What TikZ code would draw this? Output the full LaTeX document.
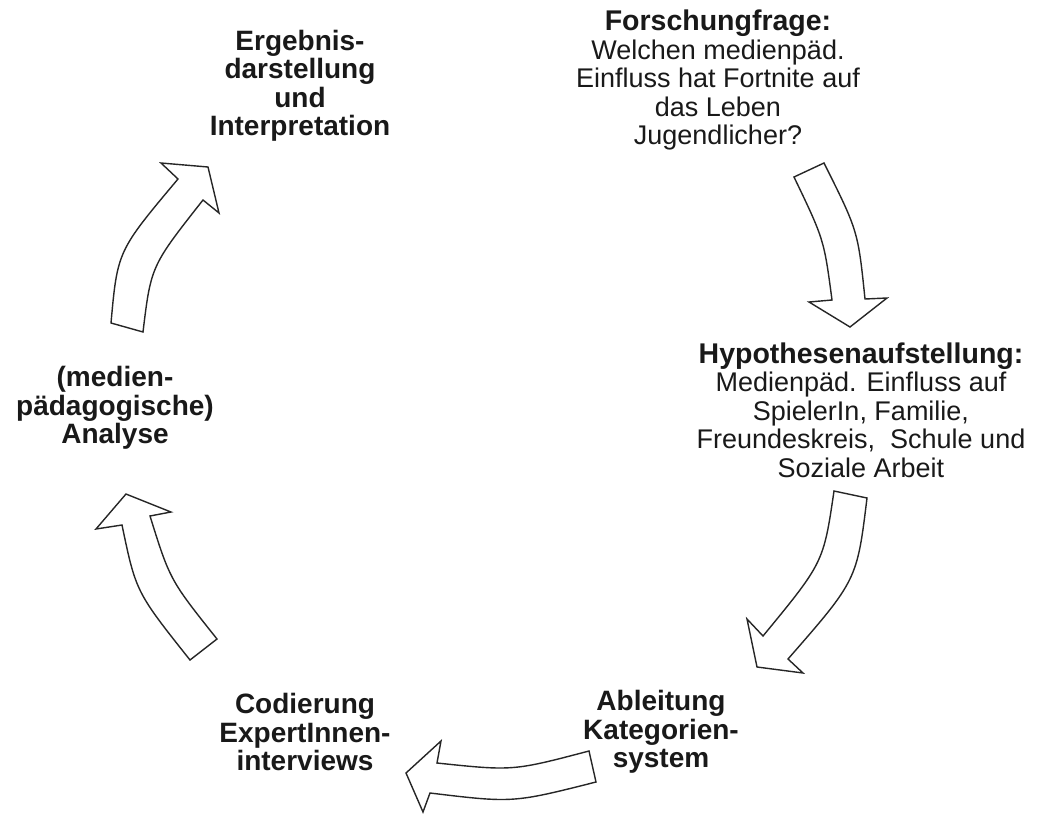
\documentclass[tikz,border=0pt]{standalone}
\usepackage{fontspec}
\setmainfont{Liberation Sans}
\begin{document}
\begin{tikzpicture}[x=1pt,y=-1pt,
  lbl/.style={align=center,inner sep=0pt,font=\fontsize{27}{28.5}\selectfont,text=black!90},
  bl/.style={lbl,font=\fontsize{28}{28.5}\selectfont\bfseries},
  blockarrow/.style={draw=black!85,line width=1.4pt,fill=white,line join=miter}]
\useasboundingbox (0,0) rectangle (1042,814);
\newcommand{\ttl}[1]{{\fontsize{28.5}{28.5}\selectfont\bfseries #1}}
% texts
\node[lbl] (fq) at (718,80) {\ttl{Forschungfrage:}\\Welchen medienpäd.\\Einfluss hat Fortnite auf\\das Leben\\Jugendlicher?};
\node[lbl] (hy) at (861,410) {\ttl{Hypothesenaufstellung:}\\Medienpäd. Einfluss auf\\SpielerIn, Familie,\\Freundeskreis,\ \ Schule und\\Soziale Arbeit};
\node[bl] (ab) at (661,732) {Ableitung\\Kategorien-\\system};
\node[bl] (co) at (305,732) {Codierung\\ExpertInnen-\\interviews};
\node[bl] (an) at (115,408) {(medien-\\pädagogische)\\Analyse};
\node[bl] (er) at (300,86) {Ergebnis-\\darstellung\\und\\Interpretation};
% arrow 1: Forschungsfrage -> Hypothesen
\draw[blockarrow] (794,177) -- (824,163) .. controls (858,231) .. (865,299)
  -- (887,298) -- (850,327) -- (809,302) -- (832,300) .. controls (824,239.5) .. cycle;
% arrow 2: Hypothesen -> Ableitung
\draw[blockarrow] (834,491) -- (867,498) .. controls (857,580) .. (788,659)
  -- (803,673) -- (757,667) -- (747,619) -- (763,636) .. controls (823.5,562.5) .. cycle;
% arrow 3: Ableitung -> Codierung
\draw[blockarrow] (589,751) .. controls (513,771) .. (437,763) -- (441,741)
  -- (406,773) -- (423,812) -- (430,793) .. controls (513,803) .. (596,782) -- cycle;
% arrow 4: Codierung -> Analyse
\draw[blockarrow] (190,660) .. controls (136,592) .. (122,525) -- (96,529)
  -- (126,494) -- (171,512) -- (150,516) .. controls (170,580) .. (217,639) -- cycle;
% arrow 5: Analyse -> Ergebnis
\draw[blockarrow] (111,323) .. controls (117.5,251) .. (178,179) -- (161,163)
  -- (208,167) -- (219,213) -- (203,200) .. controls (151,266) .. (143,332) -- cycle;
\end{tikzpicture}
\end{document}
